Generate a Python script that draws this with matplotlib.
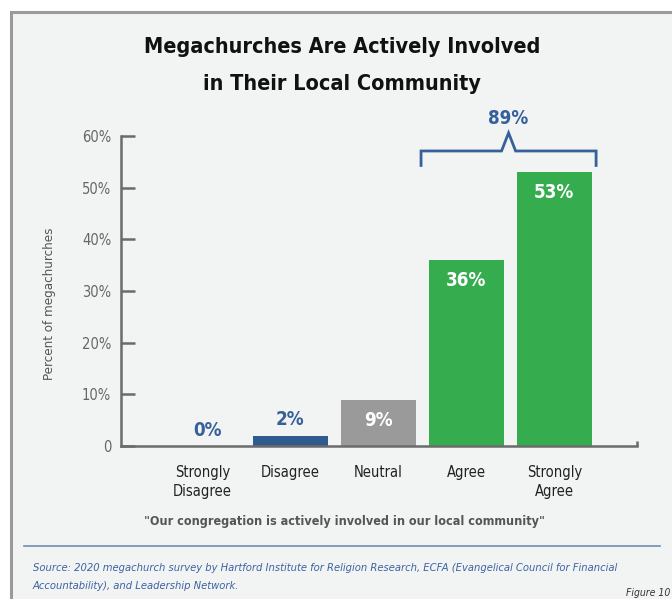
import numpy as np
import matplotlib.pyplot as plt
from matplotlib.patches import Rectangle

# Survey responses
categories = ["Strongly\nDisagree", "Disagree", "Neutral", "Agree", "Strongly\nAgree"]
percents = [0, 2, 9, 36, 53]
bar_colors = ["#2f5b8e", "#2f5b8e", "#9a9a9a", "#35ad4f", "#35ad4f"]
label_colors = ["#35609a", "#35609a", "white", "white", "white"]
yticks = [0, 10, 20, 30, 40, 50, 60]
ytick_labels = ["0", "10%", "20%", "30%", "40%", "50%", "60%"]

plt.rcParams["font.family"] = ["DejaVu Sans"]
plt.rcParams["font.stretch"] = "condensed"

BLUE = "#35609a"
BG = "#f2f3f3"

fig = plt.figure(figsize=(6.72, 5.99), dpi=100)
fig.patch.set_facecolor("white")

# panel background with grey border on left/top
bg = fig.add_axes([0, 0, 1, 1], zorder=-5)
bg.set_axis_off()
bg.set_xlim(0, 672)
bg.set_ylim(599, 0)
bg.add_patch(Rectangle((11, 12), 700, 620, facecolor=BG, edgecolor="#9a9a9a",
                       linewidth=2.2))
bg.plot([24, 660], [546, 546], color="#6f8db0", lw=1.2)

ax = fig.add_axes([121 / 672, (599 - 446) / 599, (637 - 121) / 672, 310 / 599])
ax.set_facecolor("none")

x = np.arange(len(categories))
width = 0.85
ax.bar(x, percents, width=width, color=bar_colors, zorder=2)

ax.set_xlim(-0.926, 4.94)
ax.set_ylim(0, 60)

for s in ["top", "right"]:
    ax.spines[s].set_visible(False)
for s in ["left", "bottom"]:
    ax.spines[s].set_color("#6b6b6b")
    ax.spines[s].set_linewidth(1.8)

ax.set_yticks(yticks)
ax.set_yticklabels(ytick_labels)
ax.tick_params(axis="y", direction="in", length=10, width=1.8, color="#6b6b6b",
               labelcolor="#666666", labelsize=10.5, pad=7)
ax.set_xticks(x)
ax.set_xticklabels(categories, fontsize=10.5, color="#222222", linespacing=1.3)
ax.tick_params(axis="x", length=0, pad=14)

# small end cap at the right of the baseline
ax.plot([4.94, 4.94], [0, 0.9], color="#6b6b6b", lw=1.8, clip_on=False,
        solid_capstyle="butt")

ax.set_ylabel("Percent of megachurches", fontsize=9.5, color="#555555")
ax.yaxis.set_label_coords(-0.125, 0.46)

# value labels
for i, v in enumerate(percents):
    if label_colors[i] == "white":
        y = v - 4.0
        va = "center"
    else:
        y = v + 1.2
        va = "bottom"
    ax.text(x[i] + (0.06 if i == 0 else 0), y, f"{v}%", ha="center", va=va,
            color=label_colors[i], fontsize=13.5, fontweight="bold", zorder=3)

# bracket over agree + strongly agree
bl = x[3] - width / 2 - 0.09
br = x[4] + width / 2 + 0.05
bm = (bl + br) / 2
yb, yt, yp = 54.3, 57.1, 60.6
ax.plot([bl, bl, bm - 0.08, bm, bm + 0.08, br, br],
        [yb, yt, yt, yp, yt, yt, yb], color=BLUE, lw=2, clip_on=False,
        solid_joinstyle="miter")
ax.text(bm, yp + 1.0, f"{percents[3] + percents[4]}%", ha="center", va="bottom",
        color=BLUE, fontsize=13.5, fontweight="bold")

fig.text(342 / 672, 1 - 47 / 599, "Megachurches Are Actively Involved",
         ha="center", va="center", fontsize=15.5, fontweight="bold", color="#111111")
fig.text(342 / 672, 1 - 84 / 599, "in Their Local Community",
         ha="center", va="center", fontsize=15.5, fontweight="bold", color="#111111")

fig.text(345 / 672, 1 - 522 / 599,
         '"Our congregation is actively involved in our local community"',
         ha="center", va="center", fontsize=9, fontweight="bold", color="#555555")

fig.text(33 / 672, 1 - 568 / 599,
         "Source: 2020 megachurch survey by Hartford Institute for Religion Research, "
         "ECFA (Evangelical Council for Financial",
         ha="left", va="center", fontsize=8, style="italic", color="#3b63a3")
fig.text(33 / 672, 1 - 586 / 599, "Accountability), and Leadership Network.",
         ha="left", va="center", fontsize=8, style="italic", color="#3b63a3")
fig.text(670 / 672, 1 - 593 / 599, "Figure 10", ha="right", va="center",
         fontsize=7.5, style="italic", color="#333333")

fig.savefig("out.png", dpi=100, facecolor=fig.get_facecolor())
